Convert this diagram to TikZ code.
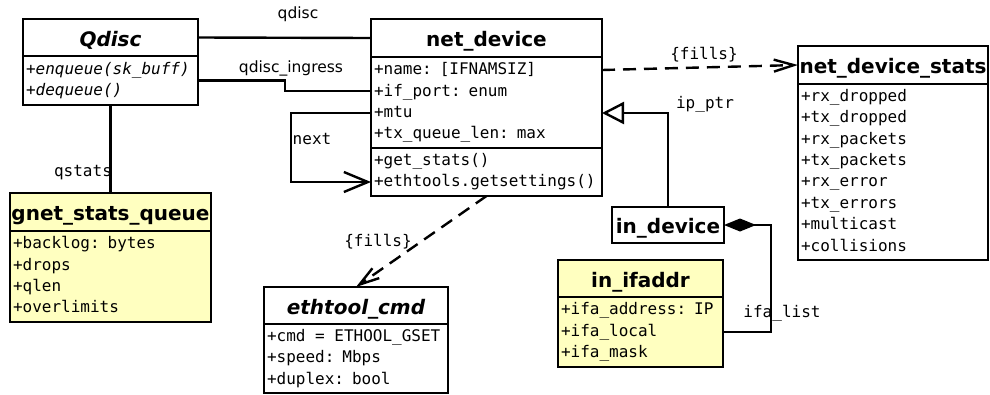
\documentclass[tikz,border=0pt]{standalone}
\usepackage{fontspec}
\setmainfont{DejaVu Sans}
\newfontfamily\monofont{DejaVu Sans Mono}
\usetikzlibrary{positioning,arrows.meta}
\definecolor{noteyellow}{RGB}{255,255,192}

\begin{document}
\begin{tikzpicture}[x=1pt, y=-1pt, line width=2.4pt,
  hdr/.style = {draw, fill=white, inner sep=0pt, outer sep=0pt, anchor=north west, text height=17pt, text depth=0pt,
    font=\bfseries\fontsize{20}{24}\selectfont},
  body/.style = {draw, fill=white, inner xsep=3pt, inner ysep=0pt, outer sep=0pt, align=left, font=\monofont\fontsize{16}{21.4}\selectfont,
    execute at begin node={\spaceskip=\fontcharwd\font`x\relax\strut}, execute at end node={\strut}},
  lbl/.style = {inner sep=0pt, font=\fontsize{15.5}{18}\selectfont},
  mlbl/.style = {inner sep=0pt, font=\monofont\fontsize{16}{19}\selectfont},
  fills/.style = {dash pattern=on 13pt off 8pt, -{Straight Barb[length=20pt,width=12pt]}}]
  \useasboundingbox (0,0) rectangle (990,394);

  % classes
  \node[hdr, minimum width=175pt, minimum height=37pt] (qd) at (23,19) {\itshape Qdisc};
  \node[body, text width=169pt, minimum height=49pt, below=0pt of qd, font=\monofont\itshape\fontsize{16}{21.4}\selectfont] (qdb) {+enqueue(sk\_buff)\\+dequeue()};

  \node[hdr, minimum width=231pt, minimum height=38pt] (nd) at (371,19) {net\_device};
  \node[body, text width=225pt, minimum height=91pt, below=0pt of nd] (nda) {+name: [IFNAMSIZ]\\+if\_port: enum\\+mtu\\+tx\_queue\_len: max};
  \node[body, text width=225pt, minimum height=48pt, below=0pt of nda] (ndm) {+get\_stats()\\+ethtools.getsettings()};

  \node[hdr, minimum width=190pt, minimum height=38pt] (ns) at (798,46) {net\_device\_stats};
  \node[body, text width=184pt, minimum height=176pt, below=0pt of ns] (nsa) {+rx\_dropped\\+tx\_dropped\\+rx\_packets\\+tx\_packets\\+rx\_error\\+tx\_errors\\+multicast\\+collisions};

  \node[hdr, fill=noteyellow, minimum width=201pt, minimum height=38pt] (gq) at (10,193) {gnet\_stats\_queue};
  \node[body, fill=noteyellow, text width=195pt, minimum height=91pt, below=0pt of gq] (gqa) {+backlog: bytes\\+drops\\+qlen\\+overlimits};

  \node[hdr, minimum width=184pt, minimum height=37pt] (ec) at (264,287) {\itshape ethtool\_cmd};
  \node[body, text width=178pt, minimum height=69pt, below=0pt of ec] (eca) {+cmd = ETHOOL\_GSET\\+speed: Mbps\\+duplex: bool};

  \node[hdr, minimum width=112pt, minimum height=36pt] (id) at (612,207) {in\_device};

  \node[hdr, fill=noteyellow, minimum width=165pt, minimum height=37pt] (ia) at (558,260) {in\_ifaddr};
  \node[body, fill=noteyellow, text width=159pt, minimum height=70pt, below=0pt of ia] (iaa) {+ifa\_address: IP\\+ifa\_local\\+ifa\_mask};

  % links
  \draw (qd.east) -- (nd.west);
  \draw (qdb.east) -- ++(87,0) |- ([yshift=-34pt]nda.north west);
  \draw (qdb.south) -- (gq.north);
  \draw[-{Straight Barb[length=24pt,width=20pt]}] ([yshift=-56pt]nda.north west) -- ++(-80,0) |- ([yshift=-34pt]ndm.north west);
  \draw[fills] ([yshift=-13pt]nda.north east) -- (ns.west);
  \draw[-{Triangle[open,length=22pt,width=22pt]}] (id.north) |- ([yshift=-56pt]nda.north east);
  \draw[fills] (ndm.south) -- (ec.north);
  \draw[{Diamond[length=32pt,width=13pt]}-] (id.east) -- ++(47,0) |- (iaa.east);

  % labels
  \node[lbl] (lqd) at (298,14) {qdisc};
  \node[lbl] (lqi) at (291,68) {qdisc\_ingress};
  \node[mlbl] (lqs) at (83,173) {qstats};
  \node[mlbl] (lnx) at (312,139) {next};
  \node[mlbl] (lf1) at (704,55) {\{fills\}};
  \node[mlbl] (lip) at (705,104) {ip\_ptr};
  \node[mlbl] (lf2) at (378,242) {\{fills\}};
  \node[mlbl] (lil) at (782,313) {ifa\_list};
\end{tikzpicture}
\end{document}
